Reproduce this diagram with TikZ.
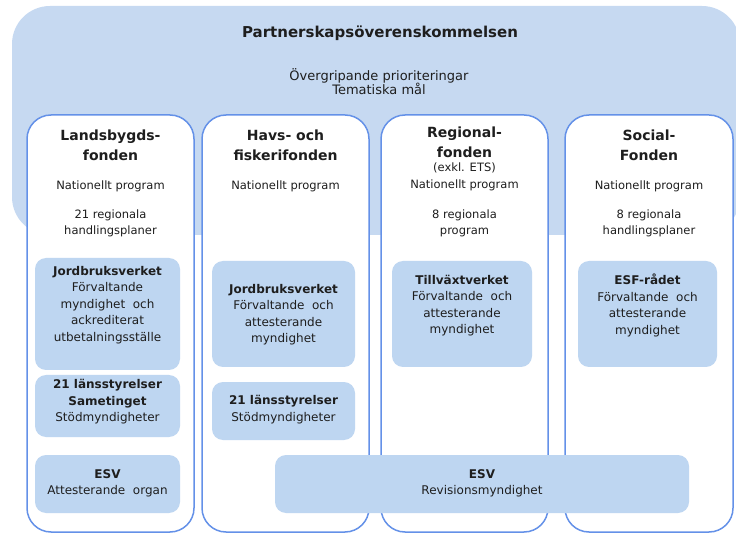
\documentclass[tikz,border=0pt]{standalone}
\usepackage{fontspec}
\setmainfont{DejaVu Sans}
\definecolor{bgblue}{RGB}{198,217,241}
\definecolor{boxblue}{RGB}{190,214,241}
\definecolor{edgeblue}{RGB}{100,145,232}
\definecolor{ink}{RGB}{30,30,30}
\begin{document}
\begin{tikzpicture}[x=1pt,y=-1pt,
  bgbox/.style={fill=bgblue, rounded corners=38pt, inner sep=0pt, outer sep=0pt},
  colbox/.style={draw=edgeblue, line width=1.5pt, fill=white, rounded corners=24pt, inner sep=0pt, outer sep=0pt},
  inbox/.style={fill=boxblue, rounded corners=11pt, inner sep=0pt, outer sep=0pt},
  maintitle/.style={text=ink, inner sep=0pt, font=\fontsize{15}{18}\selectfont\bfseries},
  subtxt/.style={text=ink, align=center, inner sep=0pt, font=\fontsize{13}{14.5}\selectfont},
  coltitle/.style={text=ink, align=center, inner sep=0pt, font=\fontsize{14}{20}\selectfont\bfseries},
  bodytxt/.style={text=ink, align=center, inner sep=0pt, font=\fontsize{11.5}{16.5}\selectfont},
  boxtxt/.style={text=ink, align=center, inner sep=0pt, font=\fontsize{12}{16.5}\selectfont},
]
\useasboundingbox (0,0) rectangle (736,534);
% background agreement box
\node[bgbox, minimum width=728pt, minimum height=229pt] (pa) at (376,120.5) {};
\node[maintitle] (pat) at (380,33) {Partnerskapsöverenskommelsen};
\node[subtxt] (pas) at (379,81.5) {Övergripande prioriteringar\\Tematiska mål};
% columns
\node[colbox, minimum width=167pt, minimum height=417pt] (c1) at (110.5,323.5) {};
\node[colbox, minimum width=167pt, minimum height=417pt] (c2) at (285.5,323.5) {};
\node[colbox, minimum width=167pt, minimum height=417pt] (c3) at (464.5,323.5) {};
\node[colbox, minimum width=168pt, minimum height=417pt] (c4) at (649,323.5) {};
% column 1
\node[coltitle] (c1t) at (110.5,145) {Landsbygds-\\fonden};
\node[bodytxt] (c1n) at (110.5,186) {Nationellt program};
\node[bodytxt] (c1r) at (110.5,223.5) {21 regionala\\handlingsplaner};
\node[inbox, minimum width=145pt, minimum height=112pt] (c1a) at (107.5,314) {};
\node[boxtxt] (c1at) at (107.5,305) {\textbf{Jordbruksverket}\\Förvaltande\\myndighet\ \ och\\ackrediterat\\utbetalningsställe};
\node[inbox, minimum width=145pt, minimum height=62pt] (c1b) at (107.5,406) {};
\node[boxtxt] (c1bt) at (107.5,402) {\textbf{21 länsstyrelser}\\\textbf{Sametinget}\\Stödmyndigheter};
\node[inbox, minimum width=145pt, minimum height=58pt] (c1c) at (107.5,484) {};
\node[boxtxt] (c1ct) at (107.5,483.5) {\textbf{ESV}\\Attesterande\ \ organ};
% column 2
\node[coltitle] (c2t) at (285.5,145) {Havs- och\\fiskerifonden};
\node[bodytxt] (c2n) at (285.5,186) {Nationellt program};
\node[inbox, minimum width=143pt, minimum height=106pt] (c2a) at (283.5,314) {};
\node[boxtxt] (c2at) at (283.5,314.5) {\textbf{Jordbruksverket}\\Förvaltande\ \ och\\attesterande\\myndighet};
\node[inbox, minimum width=143pt, minimum height=58pt] (c2b) at (283.5,411) {};
\node[boxtxt] (c2bt) at (283.5,409.5) {\textbf{21 länsstyrelser}\\Stödmyndigheter};
% column 3
\node[coltitle] (c3t) at (464.5,142.5) {Regional-\\fonden};
\node[bodytxt] (c3n) at (464.5,177) {(exkl. ETS)\\Nationellt program};
\node[bodytxt] (c3r) at (464.5,223.5) {8 regionala\\program};
\node[inbox, minimum width=140pt, minimum height=106pt] (c3a) at (462,314) {};
\node[boxtxt] (c3at) at (462,305.5) {\textbf{Tillväxtverket}\\Förvaltande\ \ och\\attesterande\\myndighet};
% column 4
\node[coltitle] (c4t) at (649,145) {Social-\\Fonden};
\node[bodytxt] (c4n) at (649,186) {Nationellt program};
\node[bodytxt] (c4r) at (649,223.5) {8 regionala\\handlingsplaner};
\node[inbox, minimum width=139pt, minimum height=106pt] (c4a) at (647.5,314) {};
\node[boxtxt] (c4at) at (647.5,305.5) {\textbf{ESF-rådet}\\Förvaltande\ \ och\\attesterande\\myndighet};
% audit authority spanning
\node[inbox, minimum width=414pt, minimum height=58pt] (rev) at (482,484) {};
\node[boxtxt] (revt) at (482,483.5) {\textbf{ESV}\\Revisionsmyndighet};
\end{tikzpicture}
\end{document}
